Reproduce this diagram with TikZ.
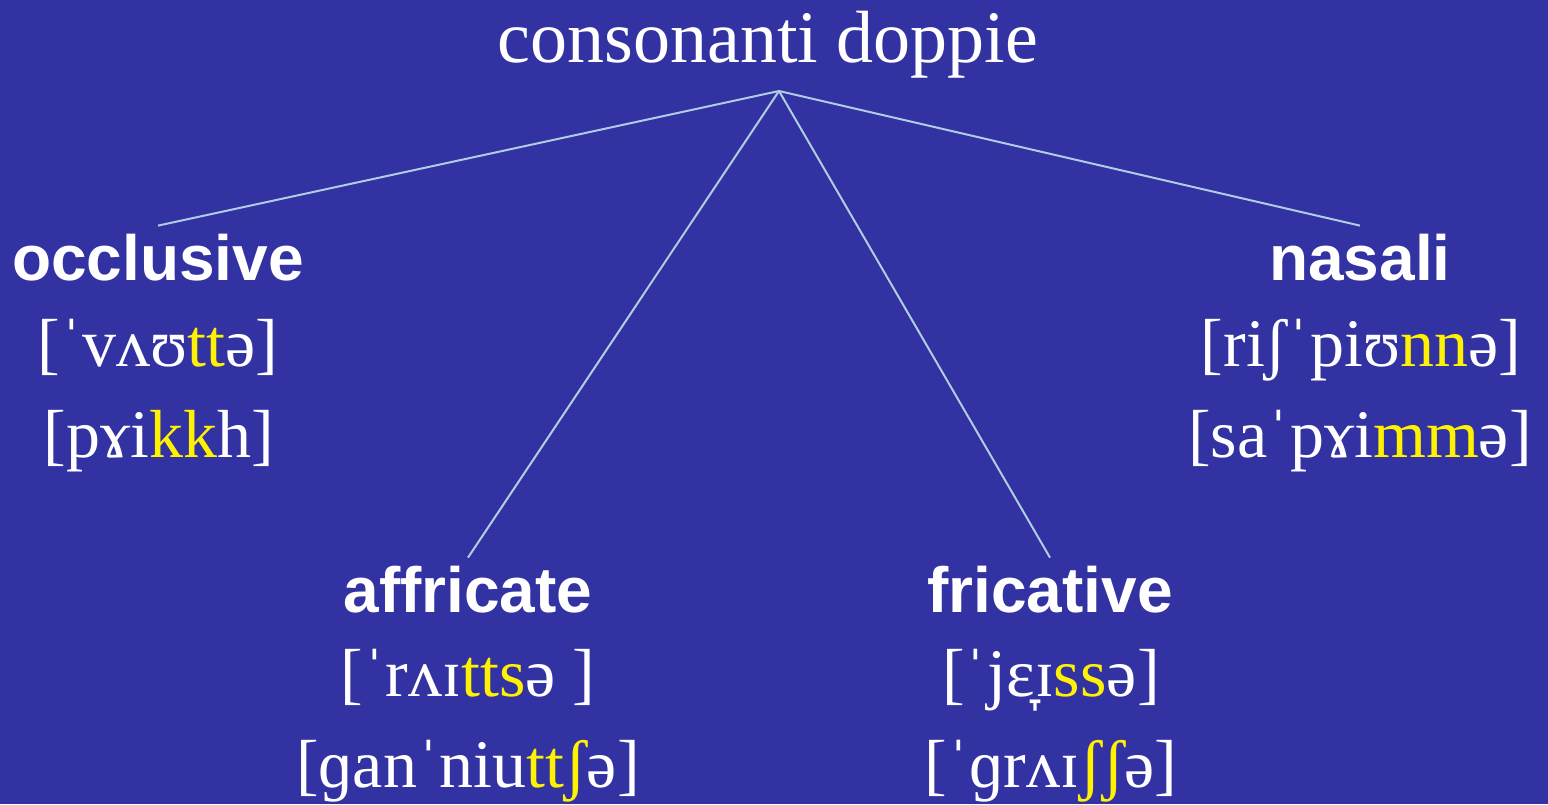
\documentclass[tikz,border=0pt]{standalone}
\usepackage{fontspec}
\setmainfont{Liberation Serif}
\newfontfamily\labfont{Liberation Sans}
\definecolor{slide}{RGB}{50,50,162}
\definecolor{twig}{RGB}{175,205,228}
\newcommand{\gem}[1]{\textcolor{yellow}{#1}}

\begin{document}
\begin{tikzpicture}[x=0.5pt,y=-0.5pt,
  every node/.style={text=white, inner sep=0pt, anchor=base},
  cat/.style={font=\labfont\bfseries\fontsize{32}{38}\selectfont, outer sep=4pt},
  ipa/.style={font=\fontsize{34}{40}\selectfont},
  twig/.style={draw=twig, line width=1pt}]
  \fill[slide] (0,0) rectangle (1548,804);
  \node[font=\fontsize{37}{44}\selectfont] (title) at (768,62) {consonanti doppie};
  \coordinate (root) at (779,91);
  % categorie
  \node[cat] (occl) at (158,280) {occlusive};
  \node[cat] (affr) at (468,612) {affricate};
  \node[cat] (fric) at (1050,612) {fricative};
  \node[cat] (nasa) at (1360,280) {nasali};
  % esempi
  \node[ipa] (occl-1) at (158,366) {[ˈvʌʊ\gem{tt}ə]};
  \node[ipa] (occl-2) at (159,457) {[pɤi\gem{kk}h]};
  \node[ipa] (affr-1) at (468,696) {[ˈrʌɪ\gem{tts}ə ]};
  \node[ipa] (affr-2) at (468,787) {[ɡanˈniu\gem{ttʃ}ə]};
  \node[ipa] (fric-1) at (1051,696) {[ˈjɛ̞ɪ\gem{ss}ə]};
  \node[ipa] (fric-2) at (1051,787) {[ˈɡrʌɪ\gem{ʃʃ}ə]};
  \node[ipa] (nasa-1) at (1361,366) {[riʃˈpiʊ\gem{nn}ə]};
  \node[ipa] (nasa-2) at (1360,457) {[saˈpɤi\gem{mm}ə]};
  \path[twig]
  (root) edge (occl.north)
  (root) edge (affr.north)
  (root) edge (fric.north)
  (root) edge (nasa.north);
\end{tikzpicture}
\end{document}
